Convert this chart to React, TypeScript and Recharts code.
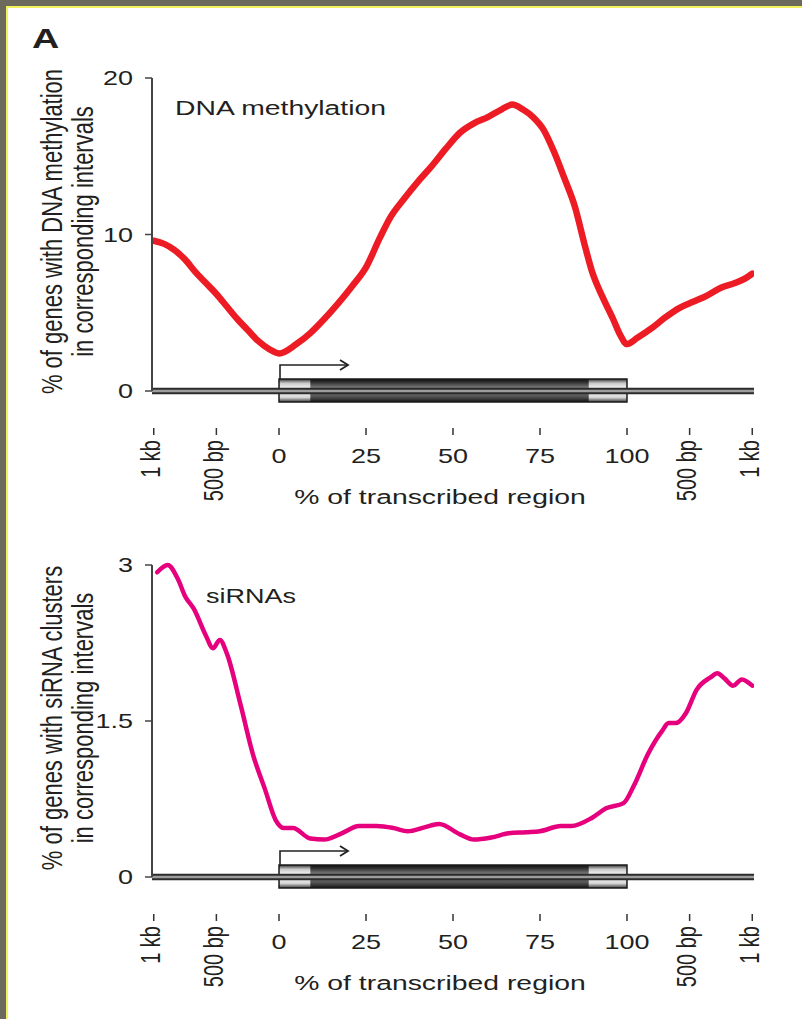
import { LineChart, Line, XAxis, YAxis, ReferenceLine, ReferenceArea, Label } from "recharts";

// positions along the gene: -36 = 1 kb upstream, 0..100 = % of transcribed region, 136 = 1 kb downstream
const tickPos = [-36, -18, 0, 25, 50, 75, 100, 118, 136];
const tickLabels = ["1 kb", "500 bp", "0", "25", "50", "75", "100", "500 bp", "1 kb"];

const methPos = [-36, -33, -30, -27, -24, -21, -18, -15, -12, -9, -6, -3, 0, 5, 9, 13, 17, 21, 25, 29, 32, 36, 40, 44, 48, 52, 56, 60, 64, 67, 70, 73, 76, 79, 82, 85, 88, 90, 93, 96, 98, 100, 103, 107, 111, 115, 119, 123, 127, 131, 134, 136];
const methPct = [9.6, 9.4, 9.0, 8.4, 7.6, 6.9, 6.2, 5.4, 4.6, 3.9, 3.2, 2.7, 2.4, 3.0, 3.7, 4.6, 5.6, 6.7, 7.9, 9.8, 11.1, 12.3, 13.4, 14.4, 15.5, 16.5, 17.1, 17.5, 18.0, 18.3, 18.0, 17.5, 16.7, 15.3, 13.6, 11.8, 9.2, 7.6, 6.0, 4.6, 3.6, 3.0, 3.4, 4.0, 4.7, 5.3, 5.7, 6.1, 6.6, 6.9, 7.2, 7.5];

const siPos = [-35, -32, -29, -27, -24.5, -21, -19, -17, -15, -11, -7.5, -4, -1, 1.5, 4, 9, 13, 18, 23, 28, 33, 37, 42, 46, 52, 56, 61, 66, 71, 75, 81, 84, 90, 94, 99, 102, 106, 110, 112, 114, 117, 120, 124, 126, 128, 130.5, 133, 136];
const siPct = [2.93, 3.0, 2.86, 2.7, 2.58, 2.32, 2.2, 2.28, 2.15, 1.65, 1.18, 0.84, 0.55, 0.47, 0.47, 0.37, 0.36, 0.42, 0.49, 0.49, 0.47, 0.44, 0.48, 0.51, 0.41, 0.36, 0.38, 0.42, 0.43, 0.44, 0.49, 0.49, 0.57, 0.66, 0.71, 0.88, 1.18, 1.4, 1.48, 1.48, 1.58, 1.8, 1.92, 1.96, 1.91, 1.84, 1.9, 1.84];

const methTicks = [0, 10, 20];
const siTicks = [0, 1.5, 3];

const FONT = '"Liberation Sans", Arial, Helvetica, sans-serif';
const INK = "#231f20";
const SX = 1.35; // the figure is stretched sideways

const methData = methPos.map((pos, i) => ({ pos, pct: methPct[i] }));
const siData = siPos.map((pos, i) => ({ pos, pct: siPct[i] }));

function XTick(props: any) {
  const { x, y, payload } = props;
  const label = tickLabels[tickPos.indexOf(payload.value)] ?? String(payload.value);
  const rotated = /[a-z]/.test(label);
  return (
    <g>
      <line x1={x} x2={x} y1={y + 37} y2={y + 44} stroke="#333" strokeWidth={1.5} />
      {rotated ? (
        <text transform={`translate(${x + 6.5},${y + 49}) scale(${SX},1) rotate(-90)`} textAnchor="end" fontSize={20} fontFamily={FONT} fill={INK}>
          {label}
        </text>
      ) : (
        <text transform={`translate(${x},${y + 72}) scale(${SX},1)`} textAnchor="middle" fontSize={20} fontFamily={FONT} fill={INK}>
          {label}
        </text>
      )}
    </g>
  );
}

function YTick(props: any) {
  const { x, y, payload } = props;
  return (
    <text transform={`translate(${x - 12},${y + 7}) scale(${SX},1)`} textAnchor="end" fontSize={20} fontFamily={FONT} fill={INK}>
      {payload.value}
    </text>
  );
}

function GeneModel(props: any) {
  const { x, y, width, height, uid } = props;
  const base = y + height;
  const top = base - 12;
  const h = 23;
  const ay = base - 26;
  const tip = x + 69;
  return (
    <g>
      <defs>
        <linearGradient id={`${uid}-dark`} x1="0" y1="0" x2="0" y2="1">
          <stop offset="0" stopColor="#0e0e0e" />
          <stop offset="0.15" stopColor="#333" />
          <stop offset="0.42" stopColor="#8a8a8a" />
          <stop offset="0.78" stopColor="#505050" />
          <stop offset="1" stopColor="#141414" />
        </linearGradient>
        <linearGradient id={`${uid}-light`} x1="0" y1="0" x2="0" y2="1">
          <stop offset="0" stopColor="#333" />
          <stop offset="0.18" stopColor="#c8c8c8" />
          <stop offset="0.45" stopColor="#ffffff" />
          <stop offset="0.8" stopColor="#d6d6d6" />
          <stop offset="1" stopColor="#3a3a3a" />
        </linearGradient>
      </defs>
      <rect x={x} y={top} width={width} height={h} fill={`url(#${uid}-dark)`} />
      <rect x={x} y={top} width={width * 0.09} height={h} fill={`url(#${uid}-light)`} />
      <rect x={x + width * 0.89} y={top} width={width * 0.11} height={h} fill={`url(#${uid}-light)`} />
      <rect x={x} y={top} width={width} height={h} fill="none" stroke="#1a1a1a" strokeWidth={1.5} />
      <polyline points={`${x + 1},${top} ${x + 1},${ay} ${tip},${ay}`} fill="none" stroke="#222" strokeWidth={1.6} />
      <polyline points={`${tip - 8},${ay - 5} ${tip},${ay} ${tip - 8},${ay + 5}`} fill="none" stroke="#222" strokeWidth={1.8} />
    </g>
  );
}

function yTitle(lines: string[]) {
  return (props: any) => {
    const vb = props.viewBox || {};
    const cy = vb.y + vb.height / 2 - 3;
    return (
      <g>
        {lines.map((t, i) => (
          <text key={i} transform={`translate(${62 + i * 31},${cy}) scale(${SX},1) rotate(-90)`} textAnchor="middle" fontSize={22} fontFamily={FONT} fill={INK}>
            {t}
          </text>
        ))}
      </g>
    );
  };
}

function xTitle(props: any) {
  const vb = props.viewBox || {};
  return (
    <text transform={`translate(${vb.x + 288},${vb.y + 113}) scale(${SX},1)`} textAnchor="middle" fontSize={21} fontFamily={FONT} fill={INK}>
      % of transcribed region
    </text>
  );
}

function Panel({ data, color, lineWidth, yMax, yTicks, yLines, top, height, marginTop, marginBottom, uid }: any) {
  return (
    <div style={{ position: "absolute", left: 0, top, width: 802, height }}>
      <LineChart width={802} height={height} margin={{ top: marginTop, right: 48, bottom: marginBottom, left: 92 }}>
        <XAxis
          type="number"
          dataKey="pos"
          domain={[-36.5, 136.5]}
          ticks={tickPos}
          interval={0}
          allowDataOverflow
          axisLine={false}
          tickLine={false}
          tickSize={0}
          tickMargin={0}
          height={120}
          tick={(p: any) => <XTick {...p} />}
        >
          <Label content={xTitle} />
        </XAxis>
        <YAxis
          type="number"
          domain={[0, yMax]}
          ticks={yTicks}
          interval={0}
          width={60}
          axisLine={{ stroke: "#444", strokeWidth: 2 }}
          tickLine={{ stroke: "#444", strokeWidth: 1.5 }}
          tickSize={7}
          tickMargin={0}
          tick={(p: any) => <YTick {...p} />}
        >
          <Label content={yTitle(yLines)} />
        </YAxis>
        <ReferenceLine y={0} stroke="#2b2b2b" strokeWidth={6.5} ifOverflow="visible" />
        <ReferenceLine y={0} stroke="#9d9d9d" strokeWidth={2.4} ifOverflow="visible" />
        <ReferenceArea
          x1={0}
          x2={100}
          y1={0}
          y2={yMax / 20}
          ifOverflow="visible"
          shape={(p: any) => <GeneModel {...p} uid={uid} />}
        />
        <Line
          data={data}
          dataKey="pct"
          type="monotone"
          stroke={color}
          strokeWidth={lineWidth}
          strokeLinecap="round"
          strokeLinejoin="round"
          dot={false}
          activeDot={false}
          isAnimationActive={false}
        />
      </LineChart>
    </div>
  );
}

export default function App() {
  return (
    <div style={{ position: "absolute", left: 0, top: 0, width: 802, height: 1019, background: "#fff", overflow: "hidden" }}>
      <div style={{ position: "absolute", left: 0, top: 0, width: 802, height: 6, background: "#6b6a5c" }} />
      <div style={{ position: "absolute", left: 0, top: 0, width: 6, height: 1019, background: "#6b6a5c" }} />
      <div style={{ position: "absolute", left: 6, top: 6, width: 796, height: 2, background: "#f2f25c" }} />
      <div style={{ position: "absolute", left: 6, top: 6, width: 2, height: 1013, background: "#f2f25c" }} />

      <Panel
        data={methData}
        color="#ed1c24"
        lineWidth={6.5}
        yMax={20}
        yTicks={methTicks}
        yLines={["% of genes with DNA methylation", "in corresponding intervals"]}
        top={0}
        height={520}
        marginTop={78}
        marginBottom={9}
        uid="meth"
      />
      <Panel
        data={siData}
        color="#e6007e"
        lineWidth={4.5}
        yMax={3}
        yTicks={siTicks}
        yLines={["% of genes with siRNA clusters", "in corresponding intervals"]}
        top={500}
        height={519}
        marginTop={65}
        marginBottom={22}
        uid="sirna"
      />

      <svg width={802} height={1019} style={{ position: "absolute", left: 0, top: 0, pointerEvents: "none" }}>
        <text transform={`translate(32,48) scale(${SX},1)`} fontSize={28} fontWeight="bold" fontFamily={FONT} fill={INK}>A</text>
        <text transform={`translate(175,115) scale(${SX},1)`} fontSize={21} fontFamily={FONT} fill={INK}>DNA methylation</text>
        <text transform={`translate(206,603) scale(${SX},1)`} fontSize={20} fontFamily={FONT} fill={INK}>siRNAs</text>
      </svg>
    </div>
  );
}
